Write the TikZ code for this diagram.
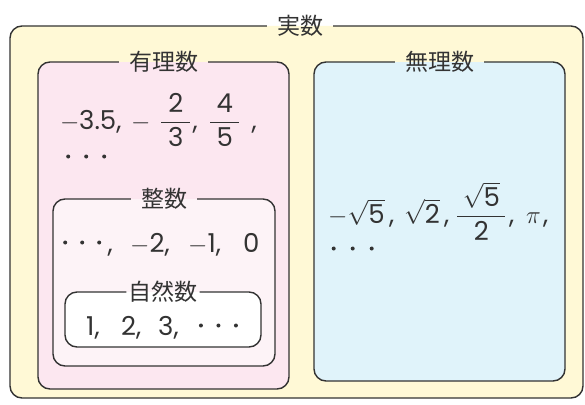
\documentclass[tikz,border=0pt]{standalone}
\usepackage{amsmath}
\usepackage{fontspec}
\setmainfont{Noto Sans CJK JP}
\newfontfamily\numfont{Poppins}
\definecolor{lineC}{HTML}{333333}
\definecolor{txtC}{HTML}{333333}
\definecolor{yelC}{HTML}{FFF9D6}
\definecolor{pinkC}{HTML}{FCE7F0}
\definecolor{pinkL}{HTML}{FDF3F7}
\definecolor{blueC}{HTML}{E0F3FA}
\newcommand{\mydot}{\raisebox{7.5pt}{\tikz\fill[txtC] (0,0) circle (2pt);}}
\newcommand{\tdots}[1]{\makebox[#1]{\mydot}\makebox[#1]{\mydot}\makebox[#1]{\mydot}}
\newcommand{\bx}[2]{\makebox[#1][l]{#2}}
\tikzset{
  border/.style={draw=lineC, line width=1.4pt, rounded corners=12pt},
  lab/.style={font=\fontsize{23}{26}\selectfont, text=txtC, inner xsep=10pt, inner ysep=0pt},
  body/.style={font=\numfont\fontsize{26}{30}\selectfont, text=txtC, inner sep=0pt, anchor=base west},
}
\begin{document}
\begin{tikzpicture}[x=1pt, y=-1pt]
\useasboundingbox (0,0) rectangle (585,404);
% outer box: real numbers
\fill[yelC, rounded corners=12pt] (10,26) rectangle (583,398);
\node[lab] (real) at (300,26) {実数};
\draw[border] (real.east |- 0,26) -- (583,26) -- (583,398) -- (10,398) -- (10,26) -- (real.west |- 0,26);
% rational
\fill[pinkC, rounded corners=12pt] (38,62) rectangle (289,389);
\node[lab] (rat) at (163.5,62) {有理数};
\draw[border] (rat.east |- 0,62) -- (289,62) -- (289,389) -- (38,389) -- (38,62) -- (rat.west |- 0,62);
% irrational
\fill[blueC, rounded corners=12pt] (314,62) rectangle (565,381);
\node[lab] (irr) at (439.5,62) {無理数};
\draw[border] (irr.east |- 0,62) -- (565,62) -- (565,381) -- (314,381) -- (314,62) -- (irr.west |- 0,62);
% integers
\fill[pinkL, rounded corners=12pt] (53,199) rectangle (275,366);
\node[lab] (int) at (164,199) {整数};
\draw[border] (int.east |- 0,199) -- (275,199) -- (275,366) -- (53,366) -- (53,199) -- (int.west |- 0,199);
% naturals
\fill[white, rounded corners=12pt] (65,292) rectangle (261,347);
\node[lab, inner xsep=2pt] (nat) at (163,292) {自然数};
\draw[border] (nat.east |- 0,292) -- (261,292) -- (261,347) -- (65,347) -- (65,292) -- (nat.west |- 0,292);
% contents
\node[body] (r1) at (60,129) {\bx{19pt}{$-$}\bx{52pt}{3.5,}\bx{29pt}{$-$}\bx{49pt}{$\dfrac{\makebox[29pt]{2}}{\makebox[29pt]{3}}$\hspace{1pt},}\bx{38pt}{$\dfrac{\makebox[29pt]{4}}{\makebox[29pt]{5}}$}\,,};
\node[body] (r2) at (59,166) {\tdots{18pt}};
\node[body] (i1) at (56.5,252) {\tdots{17pt}\bx{22.5pt}{,}\bx{58pt}{$-$2,}\bx{55pt}{$-$1,}0};
\node[body] (n1) at (86,335) {\bx{35pt}{1,}\bx{37pt}{2,}\bx{34pt}{3,}\tdots{17.5pt}};
\node[body] (q1) at (328,223) {\bx{61pt}{$-\sqrt{\text{5}}$}\bx{15pt}{,}\bx{40pt}{$\sqrt{\text{2}}$}\bx{12pt}{,}\bx{53pt}{$\dfrac{\makebox[48pt]{$\sqrt{\text{5}}$}}{\makebox[48pt]{2}}$}\bx{17pt}{,}\bx{17pt}{$\pi$},};
\node[body] (q2) at (324,258) {\tdots{19pt}};
\end{tikzpicture}
\end{document}
